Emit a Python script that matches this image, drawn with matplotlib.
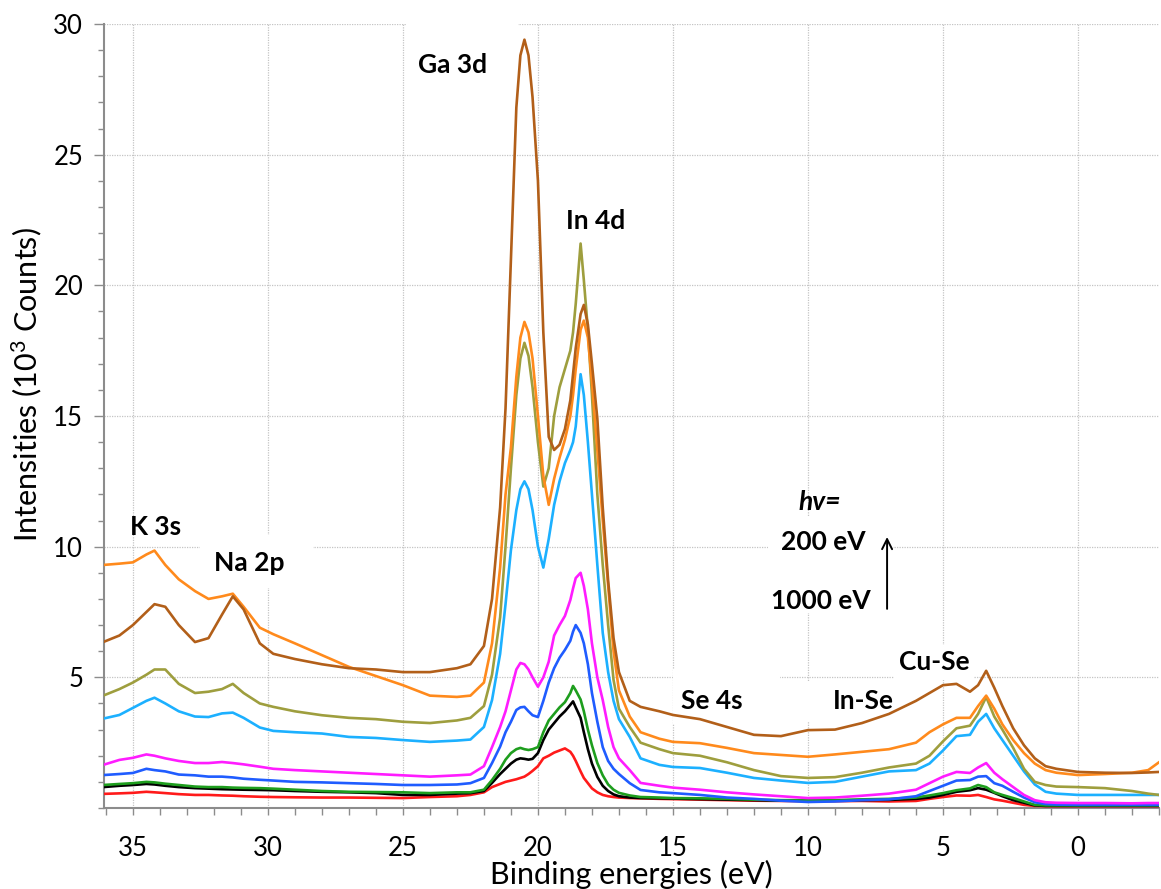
import matplotlib
matplotlib.use('Agg')
import matplotlib.pyplot as plt
from matplotlib.ticker import MultipleLocator, FixedLocator
from matplotlib.patches import Rectangle

plt.rcParams['font.family'] = ['Lato', 'DejaVu Sans']
plt.rcParams['mathtext.fontset'] = 'custom'
plt.rcParams['mathtext.rm'] = 'Lato'
plt.rcParams['mathtext.it'] = 'Lato:italic'
plt.rcParams['mathtext.bf'] = 'Lato:bold'

# ---------------- data (binding energy in eV, intensity in 10^3 counts) ----------------
energy = [36.1, 35.5, 35.0, 34.5, 34.2, 33.8, 33.3, 32.7, 32.2, 31.7,
          31.3, 30.9, 30.3, 29.8, 29.0, 28.0, 27.0, 26.0, 25.0, 24.0,
          23.0, 22.5, 22.0, 21.7, 21.4, 21.2, 21.0, 20.8, 20.65, 20.5,
          20.35, 20.2, 20.0, 19.8, 19.6, 19.4, 19.2, 19.0, 18.8, 18.7,
          18.6, 18.42, 18.3, 18.15, 18.0, 17.8, 17.6, 17.4, 17.2, 17.0,
          16.6, 16.2, 15.5, 15.0, 14.0, 13.0, 12.0, 11.0, 10.0, 9.0,
          8.0, 7.0, 6.0, 5.5, 5.0, 4.5, 4.0, 3.7, 3.4, 3.1,
          2.8, 2.4, 2.0, 1.6, 1.2, 0.8, 0.0, -1.0, -2.0, -2.6, -3.0]

brown = [6.35, 6.6, 7.0, 7.5, 7.8, 7.7, 7.0, 6.35, 6.5, 7.4,
         8.1, 7.6, 6.3, 5.9, 5.7, 5.5, 5.35, 5.3, 5.2, 5.2,
         5.35, 5.5, 6.2, 8.0, 11.5, 15.3, 21.0, 26.8, 28.8, 29.4,
         28.8, 27.2, 24.0, 18.2, 14.2, 13.7, 13.9, 14.5, 15.6, 16.6,
         17.6, 18.9, 19.25, 18.5, 17.0, 14.9, 11.5, 8.7, 6.5, 5.2,
         4.1, 3.87, 3.7, 3.56, 3.4, 3.1, 2.8, 2.75, 2.98, 3.0,
         3.25, 3.6, 4.1, 4.4, 4.7, 4.75, 4.45, 4.7, 5.25, 4.6,
         3.9, 3.05, 2.4, 1.9, 1.6, 1.5, 1.38, 1.35, 1.34, 1.36, 1.38]

orange = [9.3, 9.35, 9.4, 9.7, 9.85, 9.3, 8.75, 8.3, 8.0, 8.1,
          8.2, 7.7, 6.9, 6.65, 6.3, 5.85, 5.4, 5.05, 4.7, 4.3,
          4.25, 4.3, 4.8, 6.3, 9.2, 12.0, 13.8, 16.5, 18.0, 18.6,
          18.2, 17.2, 15.0, 12.7, 11.6, 12.6, 13.4, 14.1, 15.0, 15.8,
          16.8, 18.3, 18.65, 18.0, 16.3, 13.7, 11.0, 8.5, 6.0, 4.5,
          3.5, 2.9, 2.65, 2.53, 2.48, 2.3, 2.1, 2.03, 1.96, 2.05,
          2.15, 2.25, 2.5, 2.9, 3.2, 3.45, 3.45, 3.9, 4.3, 3.8,
          3.2, 2.6, 2.1, 1.7, 1.45, 1.35, 1.26, 1.3, 1.35, 1.45, 1.75]

olive = [4.3, 4.55, 4.8, 5.1, 5.3, 5.3, 4.75, 4.4, 4.45, 4.55,
         4.75, 4.4, 4.0, 3.87, 3.7, 3.55, 3.45, 3.4, 3.3, 3.25,
         3.35, 3.45, 3.9, 5.1, 7.3, 10.0, 13.0, 15.8, 17.2, 17.8,
         17.3, 16.1, 14.0, 12.3, 13.0, 15.0, 16.1, 16.8, 17.5, 18.2,
         19.3, 21.6, 20.2, 18.3, 15.8, 12.0, 9.3, 7.0, 4.9, 3.8,
         3.1, 2.5, 2.25, 2.1, 2.0, 1.75, 1.45, 1.22, 1.15, 1.18,
         1.35, 1.55, 1.7, 2.0, 2.55, 3.05, 3.15, 3.6, 4.25, 3.5,
         3.0, 2.3, 1.5, 1.0, 0.88, 0.82, 0.8, 0.76, 0.65, 0.55, 0.5]

light_blue = [3.42, 3.56, 3.83, 4.1, 4.22, 4.0, 3.7, 3.5, 3.48, 3.62,
              3.65, 3.45, 3.08, 2.95, 2.9, 2.85, 2.72, 2.68, 2.6, 2.53,
              2.58, 2.62, 3.1, 4.13, 5.9, 7.8, 9.87, 11.4, 12.2, 12.5,
              12.2, 11.4, 10.0, 9.2, 10.3, 11.6, 12.5, 13.2, 13.7, 14.0,
              14.6, 16.6, 15.8, 14.0, 12.0, 9.3, 6.7, 5.2, 4.1, 3.4,
              2.72, 1.9, 1.65, 1.57, 1.53, 1.35, 1.15, 1.05, 0.96, 1.0,
              1.2, 1.4, 1.45, 1.7, 2.2, 2.75, 2.8, 3.3, 3.6, 3.05,
              2.6, 2.0, 1.4, 0.9, 0.62, 0.55, 0.5, 0.5, 0.5, 0.5, 0.5]

magenta = [1.65, 1.84, 1.92, 2.05, 2.0, 1.9, 1.8, 1.72, 1.72, 1.76,
           1.72, 1.67, 1.58, 1.5, 1.45, 1.4, 1.35, 1.3, 1.25, 1.2,
           1.25, 1.28, 1.6, 2.33, 3.1, 3.7, 4.5, 5.3, 5.55, 5.5,
           5.3, 5.0, 4.64, 5.0, 5.6, 6.6, 7.0, 7.35, 7.96, 8.4,
           8.8, 9.0, 8.5, 7.6, 6.3, 5.0, 4.13, 3.1, 2.33, 1.9,
           1.45, 0.96, 0.85, 0.78, 0.7, 0.6, 0.52, 0.45, 0.38, 0.4,
           0.47, 0.55, 0.7, 0.95, 1.2, 1.38, 1.34, 1.55, 1.72, 1.35,
           1.1, 0.8, 0.5, 0.3, 0.22, 0.2, 0.19, 0.19, 0.18, 0.19, 0.19]

blue = [1.26, 1.3, 1.34, 1.5, 1.45, 1.4, 1.28, 1.25, 1.2, 1.2,
        1.17, 1.12, 1.08, 1.05, 1.0, 0.98, 0.95, 0.92, 0.88, 0.88,
        0.9, 0.95, 1.15, 1.72, 2.35, 2.9, 3.3, 3.75, 3.85, 3.87,
        3.7, 3.55, 3.48, 4.1, 4.8, 5.35, 5.75, 6.05, 6.4, 6.75,
        7.0, 6.7, 6.3, 5.5, 4.4, 3.3, 2.33, 1.8, 1.5, 1.3,
        0.95, 0.69, 0.6, 0.57, 0.5, 0.4, 0.35, 0.28, 0.23, 0.25,
        0.3, 0.33, 0.45, 0.65, 0.85, 1.05, 1.07, 1.2, 1.22, 0.95,
        0.85, 0.62, 0.4, 0.22, 0.15, 0.13, 0.12, 0.12, 0.12, 0.12, 0.12]

green = [0.88, 0.92, 0.95, 1.0, 0.98, 0.93, 0.88, 0.82, 0.8, 0.8,
         0.78, 0.77, 0.76, 0.74, 0.7, 0.65, 0.62, 0.61, 0.6, 0.57,
         0.6, 0.6, 0.7, 1.07, 1.5, 1.85, 2.1, 2.25, 2.3, 2.25,
         2.22, 2.25, 2.33, 2.9, 3.35, 3.6, 3.85, 4.05, 4.4, 4.67,
         4.5, 4.15, 3.7, 3.0, 2.4, 1.72, 1.25, 0.9, 0.7, 0.58,
         0.48, 0.42, 0.4, 0.38, 0.37, 0.35, 0.32, 0.3, 0.3, 0.3,
         0.33, 0.35, 0.4, 0.48, 0.57, 0.68, 0.75, 0.88, 0.8, 0.6,
         0.5, 0.38, 0.25, 0.12, 0.1, 0.1, 0.1, 0.1, 0.1, 0.1, 0.1]

black = [0.8, 0.85, 0.88, 0.92, 0.9, 0.85, 0.8, 0.76, 0.74, 0.72,
         0.71, 0.7, 0.69, 0.68, 0.65, 0.62, 0.6, 0.57, 0.5, 0.5,
         0.55, 0.57, 0.65, 0.96, 1.3, 1.5, 1.7, 1.85, 1.9, 1.88,
         1.85, 1.88, 2.1, 2.6, 3.0, 3.25, 3.5, 3.7, 3.95, 4.08,
         3.85, 3.45, 2.9, 2.25, 1.7, 1.19, 0.85, 0.65, 0.52, 0.45,
         0.4, 0.38, 0.37, 0.36, 0.34, 0.32, 0.3, 0.28, 0.28, 0.29,
         0.3, 0.31, 0.35, 0.4, 0.5, 0.62, 0.68, 0.76, 0.7, 0.58,
         0.45, 0.3, 0.2, 0.1, 0.08, 0.08, 0.08, 0.08, 0.08, 0.08, 0.08]

red = [0.54, 0.56, 0.58, 0.62, 0.6, 0.57, 0.53, 0.5, 0.5, 0.48,
       0.47, 0.45, 0.43, 0.42, 0.41, 0.4, 0.4, 0.39, 0.38, 0.42,
       0.45, 0.5, 0.6, 0.8, 0.92, 1.0, 1.05, 1.1, 1.15, 1.2,
       1.3, 1.42, 1.6, 1.9, 2.0, 2.12, 2.2, 2.28, 2.15, 2.0,
       1.8, 1.4, 1.15, 0.95, 0.75, 0.6, 0.5, 0.45, 0.42, 0.4,
       0.38, 0.37, 0.35, 0.34, 0.32, 0.3, 0.28, 0.27, 0.26, 0.26,
       0.27, 0.25, 0.27, 0.35, 0.42, 0.48, 0.47, 0.5, 0.42, 0.33,
       0.28, 0.2, 0.12, 0.08, 0.07, 0.07, 0.07, 0.07, 0.07, 0.07, 0.07]

# drawing order: bottom spectra first
series = [
    (red, '#FF1A1A'),
    (black, '#000000'),
    (green, '#1E9E1E'),
    (blue, '#1F5CFF'),
    (magenta, '#FF1CFF'),
    (light_blue, '#1CB0FF'),
    (olive, '#9E9E3E'),
    (orange, '#FF8A1C'),
    (brown, '#B25F19'),
]

peak_labels = ['Ga 3d', 'In 4d', 'K 3s', 'Na 2p', 'Se 4s', 'In-Se', 'Cu-Se']
peak_label_pos = [(23.15, 28.43), (17.85, 22.46), (34.15, 10.75), (30.7, 9.38),
                  (13.56, 4.09), (7.96, 4.09), (5.33, 5.59)]

# white label boxes that interrupt the grid (E_high, E_low, v_low, v_high)
label_boxes = [(24.89, 20.74, 25.6, 30.4), (32.52, 28.33, 8.4, 10.45),
               (15.0, 11.04, 3.2, 5.3), (11.48, 6.85, 7.46, 11.14),
               (6.8, 3.85, 4.9, 6.25), (10.3, 6.5, 3.3, 4.85)]

# ---------------- figure ----------------
W, H = 1161, 889
fig = plt.figure(figsize=(W / 100, H / 100), dpi=100)
ax = fig.add_axes([104 / W, 81 / H, 1055 / W, 784 / H])

for e1, e2, v1, v2 in label_boxes:
    ax.add_patch(Rectangle((e2, v1), e1 - e2, v2 - v1, facecolor='white',
                           edgecolor='none', zorder=1, clip_on=True))

for vals, col in series:
    ax.plot(energy, vals, color=col, lw=1.9, zorder=3, solid_joinstyle='round')

ax.set_xlim(36.07, -3.0)
ax.set_ylim(0, 30)

ax.xaxis.set_major_locator(MultipleLocator(5))
ax.xaxis.set_minor_locator(MultipleLocator(1))
ax.yaxis.set_major_locator(FixedLocator([5, 10, 15, 20, 25, 30]))
ax.yaxis.set_minor_locator(MultipleLocator(1))

ax.set_axisbelow(True)
ax.grid(True, which='major', linestyle=(0, (1, 1)), color='#c4c4c4', lw=0.9, zorder=0)

for s in ['top', 'right']:
    ax.spines[s].set_visible(False)
for s in ['left', 'bottom']:
    ax.spines[s].set_color('#8c8c8c')
    ax.spines[s].set_linewidth(1.5)

ax.tick_params(axis='x', which='both', direction='out', length=5, width=1,
               color='#8c8c8c', labelsize=18.5, pad=15)
ax.tick_params(axis='y', which='major', direction='out', length=7, width=1,
               color='#8c8c8c', labelsize=18.5, pad=8)
ax.tick_params(axis='y', which='minor', direction='out', length=4, width=1,
               color='#8c8c8c')

for (txt, (xe, yv)) in zip(peak_labels, peak_label_pos):
    ax.text(xe, yv, txt, fontsize=19, fontweight='bold', ha='center', va='center', zorder=4)

ax.text(9.56, 11.71, 'hv=', fontsize=19, fontweight='bold', style='italic',
        ha='center', va='center', zorder=4)
ax.text(9.44, 10.18, '200 eV', fontsize=19, fontweight='bold', ha='center', va='center', zorder=4)
ax.text(9.52, 7.92, '1000 eV', fontsize=19, fontweight='bold', ha='center', va='center', zorder=4)
ax.annotate('', xy=(7.07, 10.37), xytext=(7.07, 7.62),
            arrowprops=dict(arrowstyle='->', color='black', lw=1.4,
                            shrinkA=0, shrinkB=0, mutation_scale=18), zorder=4)

fig.text(631 / W, 1 - 884 / H, 'Binding energies (eV)', fontsize=22,
         ha='center', va='baseline')
fig.text(37 / W, 1 - 385 / H, 'Intensities (10$^3$ Counts)', fontsize=22,
         rotation=90, rotation_mode='anchor', ha='center', va='baseline')

fig.savefig('out.png', dpi=100)
